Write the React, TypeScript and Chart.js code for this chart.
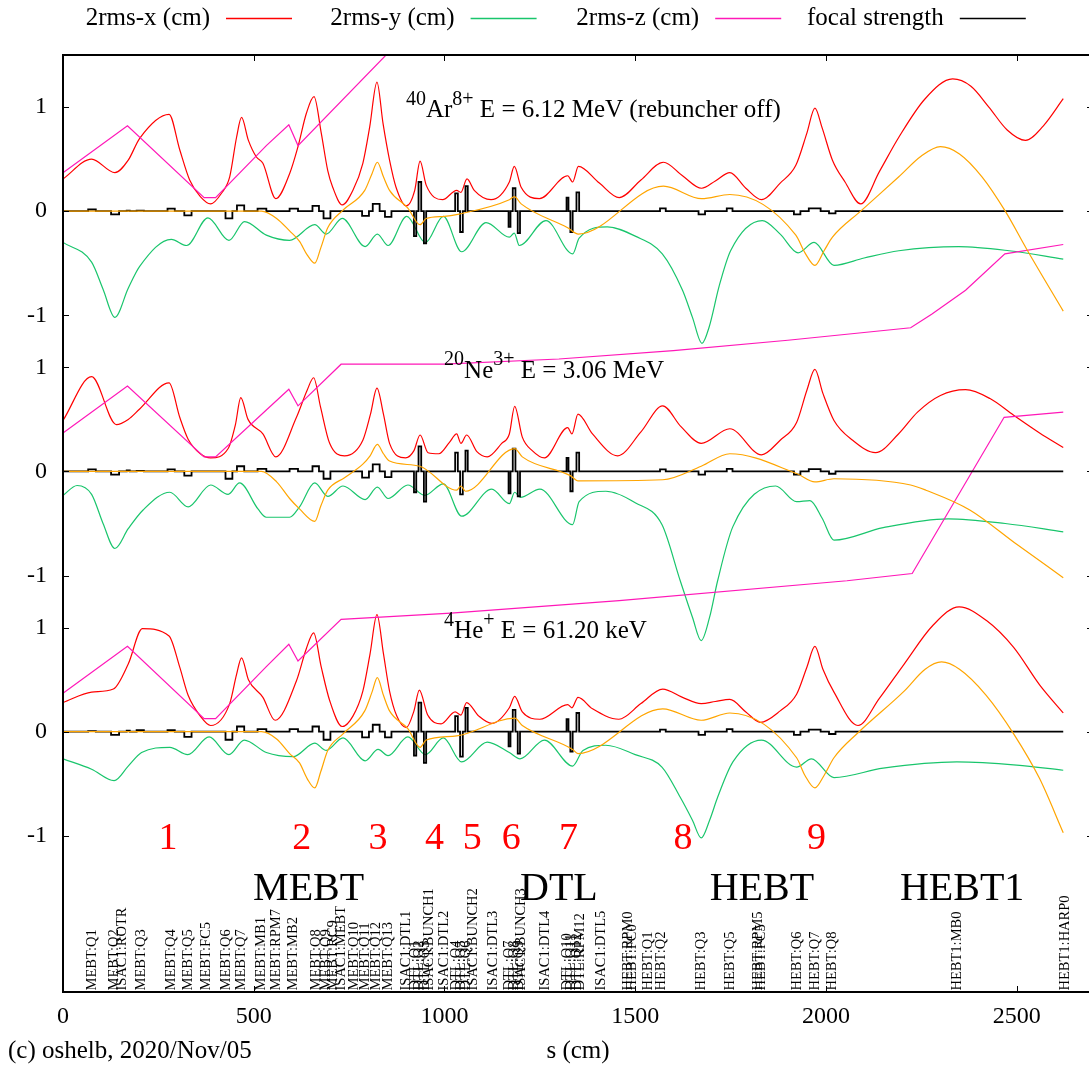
import { useEffect, useRef } from 'react';
import { Chart, registerables } from 'chart.js';

Chart.register(...registerables);

const FONT = '"Liberation Serif", "Times New Roman", serif';
type Pt = [number, number];

// ---- axes ----
const xTickValues = [0, 500, 1000, 1500, 2000, 2500];
const yTickValues = [1, 0, -1, -1.5, -2.5, -3.5, -4, -5, -6];
const yTickLabels = ['1', '0', '-1', '1', '0', '-1', '1', '0', '-1'];
const S_MAX = 2700;
const Y_MIN = -7.5;
const Y_MAX = 1.5;

// vertical offset of each beam panel (Ar, Ne, He)
const panelOffsets = [0, -2.5, -5];

// ---- 40Ar8+ (rebuncher off) ----
const arRmsX: Pt[] = [[0,0.31],[75,0.50],[136,0.37],[171,0.49],[201,0.70],[278,0.93],[306,0.59],[332,0.30],[360,0.14],[387,0.07],[415,0.17],[437,0.33],[455,0.71],[468,0.90],[486,0.68],[507,0.52],[524,0.46],[558,0.12],[594,0.36],[616,0.62],[638,0.94],[658,1.10],[677,0.75],[694,0.39],[707,0.23],[732,0.06],[760,0.20],[786,0.46],[804,0.81],[823,1.24],[839,0.84],[856,0.49],[873,0.23],[900,0.05],[922,0.20],[936,0.48],[952,0.25],[995,0.11],[1032,0.20],[1043,0.18],[1059,0.31],[1078,0.20],[1122,0.11],[1170,0.28],[1183,0.43],[1201,0.23],[1249,0.12],[1323,0.34],[1336,0.28],[1351,0.43],[1406,0.27],[1458,0.13],[1515,0.30],[1574,0.47],[1624,0.34],[1674,0.22],[1710,0.29],[1748,0.37],[1790,0.22],[1831,0.11],[1880,0.27],[1921,0.44],[1950,0.75],[1971,0.99],[1990,0.80],[2017,0.49],[2050,0.28],[2091,0.07],[2140,0.38],[2191,0.71],[2260,1.08],[2332,1.27],[2380,1.20],[2427,1.00],[2475,0.78],[2523,0.68],[2570,0.82],[2622,1.08]];
const arRmsY: Pt[] = [[0,-0.30],[75,-0.49],[105,-0.75],[136,-1.02],[171,-0.74],[201,-0.53],[284,-0.27],[324,-0.33],[380,-0.064],[435,-0.28],[476,-0.10],[533,-0.23],[594,-0.28],[660,-0.13],[690,-0.22],[732,-0.07],[792,-0.34],[824,-0.22],[852,-0.33],[901,-0.05],[950,-0.30],[997,-0.05],[1045,-0.39],[1109,-0.11],[1170,-0.25],[1183,-0.21],[1196,-0.33],[1266,-0.09],[1336,-0.41],[1353,-0.26],[1427,-0.15],[1500,-0.24],[1571,-0.41],[1624,-0.76],[1650,-1.02],[1675,-1.27],[1694,-1.11],[1720,-0.72],[1750,-0.38],[1833,-0.09],[1880,-0.22],[1927,-0.40],[1969,-0.30],[2021,-0.52],[2100,-0.45],[2191,-0.38],[2348,-0.34],[2480,-0.38],[2622,-0.46]];
const arRmsZ: Pt[] = [[0,0.37],[169,0.82],[370,0.13],[400,0.13],[533,0.63],[592,0.83],[616,0.63],[900,1.70]];
const arLong: Pt[] = [[0,0],[520,0],[560,-0.07],[594,-0.19],[620,-0.29],[640,-0.42],[660,-0.50],[676,-0.35],[694,-0.16],[734,0.01],[791,0.20],[810,0.36],[824,0.47],[840,0.33],[856,0.20],[904,0.03],[936,-0.13],[952,-0.07],[1000,-0.05],[1035,-0.03],[1170,0.11],[1183,0.14],[1201,0.07],[1323,-0.16],[1351,-0.22],[1574,0.24],[1674,0.12],[1748,0.16],[1921,-0.23],[1945,-0.40],[1971,-0.52],[1995,-0.38],[2017,-0.25],[2091,0.0],[2191,0.33],[2250,0.53],[2300,0.62],[2350,0.55],[2409,0.33],[2470,0.0],[2527,-0.37],[2622,-0.96]];

// ---- 20Ne3+ ----
const neRmsX: Pt[] = [[0,0.49],[75,0.91],[140,0.45],[171,0.50],[201,0.60],[278,0.85],[306,0.52],[328,0.31],[360,0.17],[387,0.13],[433,0.22],[452,0.45],[466,0.71],[485,0.50],[524,0.36],[558,0.14],[612,0.52],[640,0.78],[657,0.90],[675,0.62],[699,0.27],[738,0.15],[786,0.30],[806,0.55],[823,0.80],[840,0.55],[856,0.27],[898,0.13],[920,0.20],[936,0.35],[957,0.18],[985,0.17],[1013,0.28],[1032,0.36],[1043,0.27],[1058,0.35],[1085,0.19],[1112,0.14],[1150,0.27],[1170,0.36],[1184,0.625],[1204,0.33],[1230,0.20],[1262,0.13],[1323,0.42],[1334,0.36],[1350,0.55],[1388,0.36],[1454,0.15],[1515,0.38],[1572,0.63],[1620,0.43],[1673,0.27],[1748,0.41],[1831,0.16],[1880,0.30],[1923,0.47],[1950,0.78],[1971,0.98],[1992,0.75],[2021,0.49],[2070,0.30],[2130,0.18],[2190,0.36],[2240,0.57],[2300,0.73],[2366,0.785],[2430,0.70],[2492,0.54],[2560,0.37],[2622,0.23]];
const neRmsY: Pt[] = [[0,-0.23],[37,-0.135],[75,-0.22],[105,-0.50],[136,-0.74],[171,-0.55],[210,-0.37],[280,-0.20],[328,-0.34],[387,-0.13],[433,-0.22],[463,-0.11],[511,-0.36],[533,-0.44],[594,-0.44],[620,-0.34],[660,-0.11],[694,-0.24],[734,-0.14],[792,-0.27],[824,-0.15],[852,-0.26],[904,-0.13],[948,-0.23],[997,-0.12],[1045,-0.43],[1124,-0.17],[1170,-0.31],[1184,-0.20],[1199,-0.25],[1250,-0.17],[1336,-0.51],[1353,-0.29],[1423,-0.19],[1500,-0.30],[1570,-0.51],[1618,-1.05],[1650,-1.40],[1673,-1.625],[1695,-1.40],[1716,-1.05],[1756,-0.53],[1868,-0.14],[1923,-0.29],[1958,-0.28],[1990,-0.45],[2021,-0.66],[2150,-0.54],[2320,-0.455],[2470,-0.50],[2622,-0.58]];
const neRmsZ: Pt[] = [[0,0.37],[169,0.82],[370,0.14],[400,0.14],[533,0.59],[592,0.79],[616,0.63],[729,1.03],[1000,1.03],[1300,1.08],[1600,1.16],[1900,1.26],[2222,1.38],[2277,1.51],[2366,1.74],[2469,2.09],[2622,2.18]];
const neLong: Pt[] = [[0,0],[520,0],[560,-0.10],[594,-0.26],[620,-0.36],[660,-0.48],[676,-0.33],[694,-0.18],[738,-0.06],[786,0.07],[805,0.15],[824,0.26],[840,0.17],[856,0.10],[935,0.05],[1032,-0.18],[1043,-0.14],[1055,-0.19],[1184,0.22],[1204,0.14],[1330,-0.04],[1350,-0.09],[1572,-0.08],[1673,0.05],[1748,0.17],[1923,-0.02],[1971,-0.10],[2021,-0.07],[2222,-0.13],[2262,-0.18],[2377,-0.37],[2500,-0.70],[2622,-1.02]];

// ---- 4He+ ----
const heRmsX: Pt[] = [[0,0.28],[75,0.38],[132,0.41],[171,0.65],[208,0.99],[278,0.92],[306,0.62],[328,0.35],[360,0.15],[387,0.06],[437,0.27],[455,0.55],[468,0.71],[486,0.50],[524,0.33],[556,0.11],[612,0.49],[638,0.80],[657,0.95],[677,0.62],[699,0.30],[732,0.05],[760,0.15],[786,0.39],[805,0.75],[823,1.125],[840,0.75],[856,0.39],[875,0.15],[900,0.04],[920,0.20],[934,0.40],[956,0.16],[991,0.075],[1028,0.19],[1043,0.16],[1058,0.28],[1090,0.15],[1124,0.08],[1170,0.23],[1184,0.34],[1204,0.19],[1250,0.12],[1323,0.26],[1334,0.23],[1350,0.33],[1388,0.22],[1457,0.12],[1515,0.27],[1572,0.41],[1624,0.33],[1673,0.27],[1710,0.29],[1748,0.31],[1790,0.19],[1828,0.09],[1880,0.20],[1923,0.36],[1950,0.62],[1971,0.82],[1992,0.60],[2021,0.38],[2084,0.06],[2140,0.32],[2205,0.65],[2280,1.02],[2349,1.20],[2420,1.07],[2492,0.81],[2560,0.45],[2622,0.18]];
const heRmsY: Pt[] = [[0,-0.26],[75,-0.36],[134,-0.47],[171,-0.33],[206,-0.20],[280,-0.15],[327,-0.22],[383,-0.05],[435,-0.22],[475,-0.08],[533,-0.20],[603,-0.24],[660,-0.11],[690,-0.18],[734,-0.06],[792,-0.28],[826,-0.17],[852,-0.23],[904,-0.05],[950,-0.22],[997,-0.06],[1045,-0.29],[1112,-0.10],[1170,-0.20],[1198,-0.26],[1262,-0.08],[1336,-0.33],[1363,-0.18],[1423,-0.13],[1500,-0.22],[1570,-0.34],[1618,-0.63],[1650,-0.85],[1673,-1.02],[1695,-0.85],[1716,-0.63],[1756,-0.29],[1831,-0.08],[1923,-0.34],[1962,-0.26],[2021,-0.44],[2150,-0.35],[2343,-0.29],[2500,-0.32],[2622,-0.37]];
const heRmsZ: Pt[] = [[0,0.37],[169,0.82],[370,0.125],[400,0.125],[533,0.625],[592,0.84],[616,0.68],[729,1.08],[1017,1.14],[1458,1.26],[2055,1.45],[2226,1.52],[2467,3.02],[2622,3.07]];
const heLong: Pt[] = [[0,0],[520,0],[560,-0.07],[594,-0.21],[620,-0.30],[640,-0.45],[660,-0.54],[676,-0.38],[694,-0.18],[734,-0.02],[791,0.20],[810,0.38],[824,0.52],[840,0.35],[856,0.20],[904,0.03],[936,-0.15],[952,-0.08],[1032,-0.04],[1184,0.13],[1204,0.06],[1336,-0.17],[1350,-0.21],[1572,0.22],[1673,0.11],[1748,0.18],[1923,-0.25],[1945,-0.42],[1971,-0.54],[1995,-0.42],[2021,-0.25],[2084,-0.01],[2205,0.39],[2260,0.60],[2303,0.67],[2350,0.60],[2420,0.35],[2492,-0.02],[2560,-0.45],[2622,-0.97]];

// ---- focusing elements (start / end in cm) and their strengths ----
const lensStart = [66,126,167,193,274,318,426,456,510,594,654,683,784,812,844,920,932,946,1028,1041,1055,1168,1179,1192,1320,1330,1346,1565,1666,1740,1916,1955,2008];
const lensEnd = [86,147,175,212,293,337,444,475,533,616,671,701,802,830,861,926,939,952,1035,1048,1061,1173,1186,1198,1325,1336,1353,1580,1683,1755,1933,1986,2025];
const arFocus = [0.016,-0.03,0.006,0.005,0.025,-0.04,-0.07,0.055,0.025,0.025,0.05,-0.07,-0.045,0.07,-0.055,-0.24,0.28,-0.31,0.17,-0.20,0.24,-0.15,0.22,-0.21,0.13,-0.20,0.18,0.026,-0.03,0.026,-0.03,0.026,-0.022];
const neFocus = [0.02,-0.03,0.01,0.005,0.02,-0.04,-0.07,0.05,0.025,0.025,0.05,-0.07,-0.06,0.067,-0.055,-0.20,0.24,-0.29,0.18,-0.22,0.20,-0.21,0.22,-0.24,0.13,-0.19,0.18,0.02,-0.03,0.025,-0.03,0.022,-0.022];
const heFocus = [0.005,-0.03,0.01,0.016,0.016,-0.05,-0.077,0.05,0.025,0.025,0.05,-0.077,-0.055,0.067,-0.055,-0.23,0.28,-0.30,0.15,-0.24,0.23,-0.14,0.21,-0.21,0.12,-0.19,0.18,0.02,-0.03,0.025,-0.03,0.02,-0.022];
const S_END = 2622;

// ---- beam descriptions ----
const ionTitles = [
  [{ t: '40', sup: true }, { t: 'Ar' }, { t: '8+', sup: true }, { t: ' E = 6.12 MeV (rebuncher off)' }],
  [{ t: '20', sup: true }, { t: 'Ne' }, { t: '3+', sup: true }, { t: ' E = 3.06 MeV' }],
  [{ t: '4', sup: true }, { t: 'He' }, { t: '+', sup: true }, { t: ' E = 61.20 keV' }],
];
const ionTitleS = [899, 999, 999];
const ionTitleLevel = 0.9;

// ---- diagnostic station numbers and beamline sections ----
const stationNames = ['1', '2', '3', '4', '5', '6', '7', '8', '9'];
const stationS = [275, 626, 826, 974, 1073, 1175, 1325, 1625, 1975];
const stationLevel = -6.13;
const sectionNames = ['MEBT', 'DTL', 'HEBT', 'HEBT1'];
const sectionS = [644, 1300, 1832, 2357];
const sectionLevel = -6.62;

// ---- beamline element names ----
const elementNames = ['MEBT:Q1','MEBT:Q2','ISAC1:ROTR','MEBT:Q3','MEBT:Q4','MEBT:Q5','MEBT:FC5','MEBT:Q6','MEBT:Q7','MEBT:MB1','MEBT:RPM7','MEBT:MB2','MEBT:Q8','MEBT:Q9','MEBT:RC9','ISAC1:MEBT','MEBT:Q10','MEBT:Q11','MEBT:Q12','MEBT:Q13','ISAC1:DTL1','DTL:Q1','DTL:Q2','DTL:Q3','ISAC1:BUNCH1','ISAC1:DTL2','DTL:Q4','DTL:Q5','DTL:Q6','ISAC1:BUNCH2','ISAC1:DTL3','DTL:Q7','DTL:Q8','DTL:Q9','ISAC1:BUNCH3','ISAC1:DTL4','DTL:Q10','DTL:Q11','DTL:Q12','DTL:RPM12','ISAC1:DTL5','HEBT:RPM0','HEBT:FC0','HEBT:Q1','HEBT:Q2','HEBT:Q3','HEBT:Q5','HEBT:RPM5','HEBT:FC5','HEBT:Q6','HEBT:Q7','HEBT:Q8','HEBT1:MB0','HEBT1:HARP0'];
const elementS = [77,134,156,204,284,328,376,428,468,520,558,603,664,690,709,729,764,793,821,852,900,923,935,949,961,1000,1031,1044,1058,1074,1127,1170,1182,1195,1202,1263,1322,1333,1349,1357,1412,1482,1492,1533,1569,1672,1748,1822,1831,1925,1971,2017,2344,2626];

// ---- legend ----
const legendLabels = ['2rms-x (cm)', '2rms-y (cm)', '2rms-z (cm)', 'focal strength'];

const COLORS = {
  x: '#ff0000',
  y: '#19c56c',
  z: '#ff18b8',
  focus: '#000000',
  long: '#ffa500',
};
const legendColors = [COLORS.x, COLORS.y, COLORS.z, COLORS.focus];

function shifted(pts: Pt[], off: number) {
  return pts.map(([s, v]) => ({ x: s, y: v + off }));
}

function focusSteps(strength: number[], off: number) {
  const out = [{ x: 0, y: off }];
  for (let i = 0; i < lensStart.length; i++) {
    out.push({ x: lensStart[i], y: off });
    out.push({ x: lensStart[i], y: off + strength[i] });
    out.push({ x: lensEnd[i], y: off + strength[i] });
    out.push({ x: lensEnd[i], y: off });
  }
  out.push({ x: S_END, y: off });
  return out;
}

function buildDatasets() {
  const beams = [
    { rx: arRmsX, ry: arRmsY, rz: arRmsZ, lz: arLong, f: arFocus },
    { rx: neRmsX, ry: neRmsY, rz: neRmsZ, lz: neLong, f: neFocus },
    { rx: heRmsX, ry: heRmsY, rz: heRmsZ, lz: heLong, f: heFocus },
  ];
  const smooth = { cubicInterpolationMode: 'monotone' as const, borderWidth: 1.2, pointRadius: 0 };
  const straight = { tension: 0, borderWidth: 1.2, pointRadius: 0 };
  const top: any[] = [];
  const focus: any[] = [];
  const z: any[] = [];
  const y: any[] = [];
  const x: any[] = [];
  beams.forEach((b, i) => {
    const off = panelOffsets[i];
    top.push({ ...smooth, data: shifted(b.lz, off), borderColor: COLORS.long });
    focus.push({ ...straight, borderWidth: 1.8, data: focusSteps(b.f, off), borderColor: COLORS.focus });
    z.push({ ...straight, data: shifted(b.rz, off), borderColor: COLORS.z });
    y.push({ ...smooth, data: shifted(b.ry, off), borderColor: COLORS.y });
    x.push({ ...smooth, data: shifted(b.rx, off), borderColor: COLORS.x });
  });
  return [...top, ...focus, ...z, ...y, ...x];
}

function drawRich(ctx: CanvasRenderingContext2D, x: number, y: number, parts: { t: string; sup?: boolean }[], size: number) {
  let cx = x;
  ctx.textAlign = 'left';
  ctx.textBaseline = 'alphabetic';
  for (const p of parts) {
    const fs = p.sup ? Math.round(size * 0.8) : size;
    ctx.font = `${fs}px ${FONT}`;
    ctx.fillText(p.t, cx, p.sup ? y - size * 0.5 : y);
    cx += ctx.measureText(p.t).width;
  }
}

const decorations = {
  id: 'decorations',
  afterDraw(chart: any) {
    const ctx: CanvasRenderingContext2D = chart.ctx;
    const a = chart.chartArea;
    const xs = chart.scales.x;
    const ys = chart.scales.y;
    ctx.save();
    ctx.fillStyle = '#000';
    ctx.strokeStyle = '#000';

    // inward tick marks on all four sides
    ctx.lineWidth = 1;
    ctx.beginPath();
    for (const v of xTickValues) {
      const px = Math.round(xs.getPixelForValue(v)) + 0.5;
      ctx.moveTo(px, a.bottom); ctx.lineTo(px, a.bottom - 6);
      ctx.moveTo(px, a.top); ctx.lineTo(px, a.top + 6);
    }
    for (const v of yTickValues) {
      const py = Math.round(ys.getPixelForValue(v)) + 0.5;
      ctx.moveTo(a.left, py); ctx.lineTo(a.left + 6, py);
      ctx.moveTo(a.right, py); ctx.lineTo(a.right - 6, py);
    }
    ctx.stroke();

    // frame
    ctx.lineWidth = 2;
    ctx.strokeRect(a.left, a.top, a.right - a.left, a.bottom - a.top);

    // beam descriptions
    ionTitles.forEach((parts, i) => {
      drawRich(ctx, xs.getPixelForValue(ionTitleS[i]), ys.getPixelForValue(ionTitleLevel + panelOffsets[i]), parts, 25);
    });

    // station numbers
    ctx.fillStyle = '#ff0000';
    ctx.font = `38px ${FONT}`;
    ctx.textAlign = 'center';
    ctx.textBaseline = 'alphabetic';
    stationNames.forEach((n, i) => ctx.fillText(n, xs.getPixelForValue(stationS[i]), ys.getPixelForValue(stationLevel)));

    // section names
    ctx.fillStyle = '#000';
    ctx.font = `40px ${FONT}`;
    sectionNames.forEach((n, i) => ctx.fillText(n, xs.getPixelForValue(sectionS[i]), ys.getPixelForValue(sectionLevel)));

    // element names, rotated, standing on the bottom axis
    ctx.font = `14.5px ${FONT}`;
    ctx.textAlign = 'left';
    ctx.textBaseline = 'middle';
    elementNames.forEach((n, i) => {
      ctx.save();
      ctx.translate(xs.getPixelForValue(elementS[i]), a.bottom - 1.5);
      ctx.rotate(-Math.PI / 2);
      ctx.fillText(n, 0, 0);
      ctx.restore();
    });

    // axis title and credit line
    ctx.font = `25px ${FONT}`;
    ctx.textAlign = 'center';
    ctx.textBaseline = 'alphabetic';
    ctx.fillText('s (cm)', (a.left + a.right) / 2, 1058);
    ctx.textAlign = 'left';
    ctx.fillText('(c) oshelb, 2020/Nov/05', 8, 1058);

    // legend
    ctx.textAlign = 'right';
    ctx.textBaseline = 'middle';
    legendLabels.forEach((label, i) => {
      const right = 210 + 244.6 * i;
      ctx.fillStyle = '#000';
      ctx.fillText(label, right, 18);
      ctx.strokeStyle = legendColors[i];
      ctx.lineWidth = 1.5;
      ctx.beginPath();
      ctx.moveTo(right + 16, 18.5);
      ctx.lineTo(right + 82, 18.5);
      ctx.stroke();
    });
    ctx.restore();
  },
};

export default function App() {
  const ref = useRef<HTMLCanvasElement>(null);
  useEffect(() => {
    if (!ref.current) return;
    Chart.defaults.font.family = FONT;
    const chart = new Chart(ref.current, {
      type: 'line',
      data: { datasets: buildDatasets() },
      options: {
        responsive: false,
        animation: false,
        events: [],
        layout: { padding: { top: 55, right: 1, left: 0, bottom: 0 } },
        plugins: { legend: { display: false }, tooltip: { enabled: false } },
        scales: {
          x: {
            type: 'linear',
            position: 'bottom',
            min: 0,
            max: S_MAX,
            grid: { display: false, drawTicks: false },
            border: { display: false },
            afterBuildTicks: (s: any) => { s.ticks = xTickValues.map((v) => ({ value: v })); },
            afterFit: (s: any) => { s.height = 77; },
            ticks: {
              autoSkip: false,
              maxRotation: 0,
              padding: 10,
              color: '#000',
              font: { family: FONT, size: 24 },
              callback: (v: any) => String(v),
            },
          },
          y: {
            type: 'linear',
            min: Y_MIN,
            max: Y_MAX,
            grid: { display: false, drawTicks: false },
            border: { display: false },
            afterBuildTicks: (s: any) => { s.ticks = yTickValues.map((v) => ({ value: v })); },
            afterFit: (s: any) => { s.width = 63; },
            ticks: {
              autoSkip: false,
              padding: 16,
              color: '#000',
              font: { family: FONT, size: 24 },
              callback: (v: any) => {
                const i = yTickValues.indexOf(Number(v));
                return i >= 0 ? yTickLabels[i] : '';
              },
            },
          },
        },
      },
      plugins: [decorations],
    } as any);
    return () => chart.destroy();
  }, []);
  return (
    <div style={{ position: 'fixed', left: 0, top: 0, width: 1089, height: 1069, overflow: 'hidden', background: '#fff' }}>
      <canvas ref={ref} width={1094} height={1069} style={{ display: 'block' }} />
    </div>
  );
}
